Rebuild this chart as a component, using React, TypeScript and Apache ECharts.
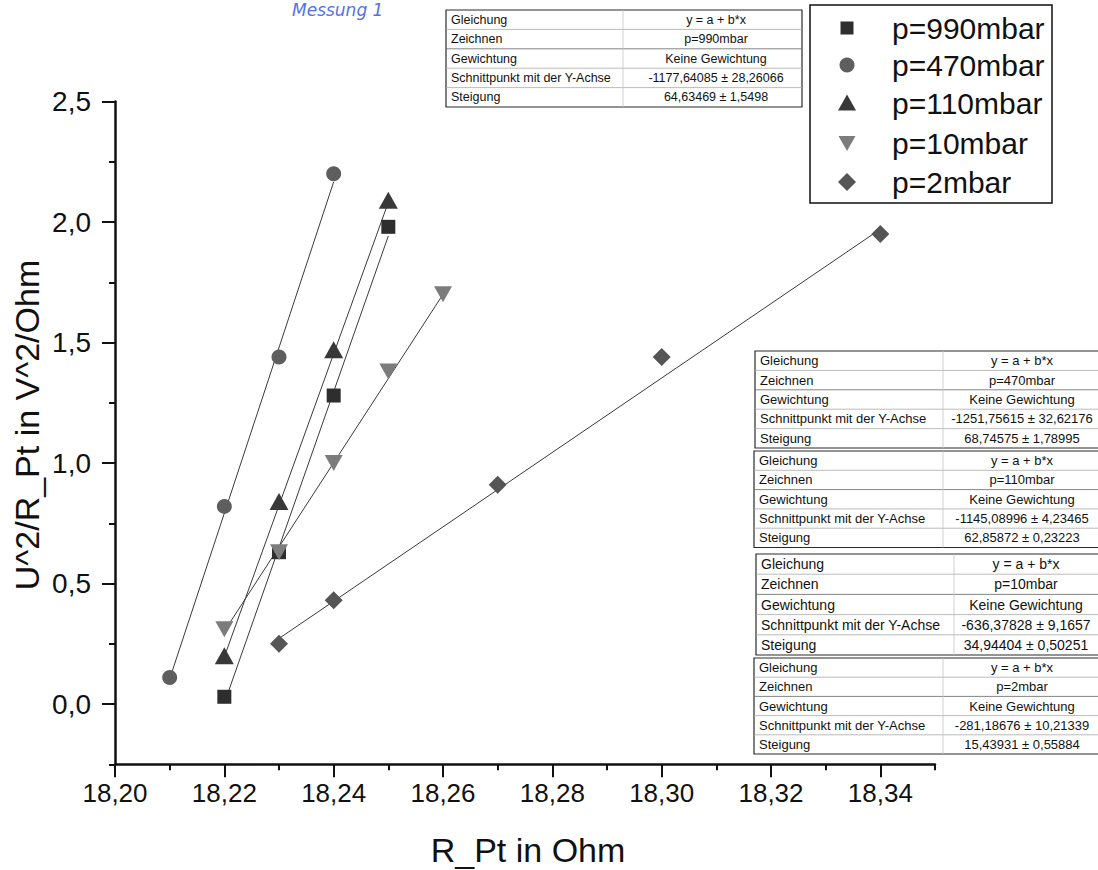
import React, { useEffect, useRef } from "react";
import * as echarts from "echarts";

// ---------- data ----------
const seriesNames = ["p=990mbar", "p=470mbar", "p=110mbar", "p=10mbar", "p=2mbar"];

const x990 = [18.22, 18.23, 18.24, 18.25];
const y990 = [0.03, 0.63, 1.28, 1.98];
const x470 = [18.21, 18.22, 18.23, 18.24];
const y470 = [0.11, 0.82, 1.44, 2.2];
const x110 = [18.22, 18.23, 18.24, 18.25];
const y110 = [0.2, 0.84, 1.47, 2.09];
const x10 = [18.22, 18.23, 18.24, 18.25, 18.26];
const y10 = [0.31, 0.63, 1.0, 1.38, 1.7];
const x2 = [18.23, 18.24, 18.27, 18.3, 18.34];
const y2 = [0.25, 0.43, 0.91, 1.44, 1.95];

const fitIntercepts = [-1177.64085, -1251.75615, -1145.08996, -636.37828, -281.18676];
const fitSlopes = [64.63469, 68.74575, 62.85872, 34.94404, 15.43931];
const interceptTexts = [
  "-1177,64085 ± 28,26066",
  "-1251,75615 ± 32,62176",
  "-1145,08996 ± 4,23465",
  "-636,37828 ± 9,1657",
  "-281,18676 ± 10,21339",
];
const slopeTexts = [
  "64,63469 ± 1,5498",
  "68,74575 ± 1,78995",
  "62,85872 ± 0,23223",
  "34,94404 ± 0,50251",
  "15,43931 ± 0,55884",
];
const tableRowLabels = ["Gleichung", "Zeichnen", "Gewichtung", "Schnittpunkt mit der Y-Achse", "Steigung"];
const equationText = "y = a + b*x";
const weightingText = "Keine Gewichtung";

const xMajorTicks = [18.2, 18.22, 18.24, 18.26, 18.28, 18.3, 18.32, 18.34];
const yMajorTicks = [0, 0.5, 1, 1.5, 2, 2.5];

const xTitle = "R_Pt in Ohm";
const yTitle = "U^2/R_Pt in V^2/Ohm";
const handNote = "Messung 1";

// ---------- styles ----------
const FONT = "Liberation Sans, Arial, sans-serif";
const markerColors = ["#2e2e2e", "#5e5e5e", "#383838", "#7c7c7c", "#555555"];
const markerSymbols = ["rect", "circle", "triangle", "triangle", "diamond"];
const markerRotate = [0, 0, 0, 180, 0];
const markerSizes: any[] = [14, 15, [19, 17], [18, 16], 18];

const xsAll = [x990, x470, x110, x10, x2];
const ysAll = [y990, y470, y110, y10, y2];

function fmtComma(v: number, d: number) {
  return v.toFixed(d).replace(".", ",");
}

function buildTable(
  i: number,
  left: number,
  top: number,
  right: number,
  split: number,
  rowH: number,
  fs: number,
  valCenter: number
) {
  const els: any[] = [];
  const h = rowH * 5;
  els.push({
    type: "rect",
    shape: { x: left, y: top, width: right - left, height: h },
    style: { fill: "#ffffff", stroke: "#2a2a2a", lineWidth: 1.2 },
    z: 50,
  });
  for (let r = 1; r < 5; r++) {
    els.push({
      type: "line",
      shape: { x1: left, y1: top + rowH * r, x2: right, y2: top + rowH * r },
      style: { stroke: r === 2 ? "#666" : "#aaa", lineWidth: 0.8 },
      z: 51,
    });
  }
  els.push({
    type: "line",
    shape: { x1: split, y1: top, x2: split, y2: top + h },
    style: { stroke: "#c4c4c4", lineWidth: 0.8 },
    z: 51,
  });
  const vals = [equationText, seriesNames[i], weightingText, interceptTexts[i], slopeTexts[i]];
  for (let r = 0; r < 5; r++) {
    els.push({
      type: "text",
      x: left + 5,
      y: top + rowH * (r + 0.5),
      style: {
        text: tableRowLabels[r],
        fill: "#111",
        font: `${fs}px ${FONT}`,
        verticalAlign: "middle",
        align: "left",
      },
      z: 52,
    });
    els.push({
      type: "text",
      x: valCenter,
      y: top + rowH * (r + 0.5),
      style: {
        text: vals[r],
        fill: "#111",
        font: `${fs}px ${FONT}`,
        verticalAlign: "middle",
        align: "center",
      },
      z: 52,
    });
  }
  return els;
}

function buildLegend() {
  const els: any[] = [];
  els.push({
    type: "rect",
    shape: { x: 810, y: 5, width: 242, height: 198 },
    style: { fill: "#fff", stroke: "#111", lineWidth: 1.5 },
    z: 50,
  });
  const rows = [28, 65, 103, 143, 182];
  const cx = 847;
  els.push({ type: "rect", shape: { x: cx - 6.5, y: rows[0] - 6.5, width: 13, height: 13 }, style: { fill: markerColors[0] }, z: 52 });
  els.push({ type: "circle", shape: { cx, cy: rows[1], r: 7.5 }, style: { fill: markerColors[1] }, z: 52 });
  els.push({
    type: "polygon",
    shape: { points: [[cx - 9, rows[2] + 7.5], [cx + 9, rows[2] + 7.5], [cx, rows[2] - 8.5]] },
    style: { fill: markerColors[2] },
    z: 52,
  });
  els.push({
    type: "polygon",
    shape: { points: [[cx - 8.5, rows[3] - 7], [cx + 8.5, rows[3] - 7], [cx, rows[3] + 8]] },
    style: { fill: markerColors[3] },
    z: 52,
  });
  els.push({
    type: "polygon",
    shape: { points: [[cx, rows[4] - 9], [cx + 9, rows[4]], [cx, rows[4] + 9], [cx - 9, rows[4]]] },
    style: { fill: markerColors[4] },
    z: 52,
  });
  for (let i = 0; i < 5; i++) {
    els.push({
      type: "text",
      x: 892,
      y: rows[i],
      style: { text: seriesNames[i], fill: "#111", font: `30px ${FONT}`, verticalAlign: "middle", align: "left" },
      z: 52,
    });
  }
  return els;
}

export default function App() {
  const ref = useRef<HTMLDivElement>(null);

  useEffect(() => {
    if (!ref.current) return;
    const chart = echarts.init(ref.current, undefined, { renderer: "svg" });

    const series: any[] = [];
    for (let i = 0; i < 5; i++) {
      const xs = xsAll[i];
      const xa = Math.min(...xs);
      const xb = Math.max(...xs);
      series.push({
        type: "line",
        name: seriesNames[i] + " Fit",
        data: [
          [xa, fitIntercepts[i] + fitSlopes[i] * xa],
          [xb, fitIntercepts[i] + fitSlopes[i] * xb],
        ],
        showSymbol: false,
        symbol: "none",
        lineStyle: { color: "#3a3a3a", width: 1 },
        silent: true,
        z: 2,
      });
    }
    for (let i = 0; i < 5; i++) {
      series.push({
        type: "scatter",
        name: seriesNames[i],
        data: xsAll[i].map((x, k) => [x, ysAll[i][k]]),
        symbol: markerSymbols[i],
        symbolRotate: markerRotate[i],
        symbolSize: markerSizes[i],
        itemStyle: { color: markerColors[i], opacity: 1 },
        z: 3 + i,
      });
    }

    const axisLineStyle = { color: "#111", width: 2.5 };
    const tickStyle = { color: "#111", width: 2 };

    const option: any = {
      animation: false,
      backgroundColor: "#ffffff",
      textStyle: { fontFamily: FONT },
      grid: { left: 115, right: 163, top: 101.5, bottom: 105.75, containLabel: false },
      xAxis: [
        {
          type: "value",
          position: "bottom",
          min: 18.2,
          max: 18.35,
          interval: 0.01,
          axisLine: { show: true, onZero: false, lineStyle: axisLineStyle },
          axisTick: { show: true, length: 6, lineStyle: tickStyle },
          axisLabel: { show: false },
          splitLine: { show: false },
        },
        {
          type: "value",
          position: "bottom",
          min: 18.2,
          max: 18.35,
          interval: 0.02,
          axisLine: { show: false, onZero: false },
          axisTick: { show: true, length: 13, lineStyle: tickStyle, customValues: xMajorTicks },
          axisLabel: {
            show: true,
            customValues: xMajorTicks,
            fontSize: 26,
            color: "#111",
            margin: 16,
            fontFamily: FONT,
            formatter: (v: number) => (v > 18.345 ? "" : fmtComma(v, 2)),
          },
          splitLine: { show: false },
        },
      ],
      yAxis: [
        {
          type: "value",
          position: "left",
          min: -0.25,
          max: 2.5,
          interval: 0.25,
          axisLine: { show: true, onZero: false, lineStyle: axisLineStyle },
          axisTick: { show: true, length: 6, lineStyle: tickStyle },
          axisLabel: { show: false },
          splitLine: { show: false },
        },
        {
          type: "value",
          position: "left",
          min: -0.25,
          max: 2.5,
          interval: 0.25,
          axisLine: { show: false, onZero: false },
          axisTick: { show: true, length: 13, lineStyle: tickStyle, customValues: yMajorTicks },
          axisLabel: {
            show: true,
            customValues: yMajorTicks,
            fontSize: 28,
            color: "#111",
            margin: 24,
            fontFamily: FONT,
            formatter: (v: number) =>
              v >= -1e-9 && Math.abs(v * 2 - Math.round(v * 2)) < 1e-6 ? fmtComma(v, 1) : "",
          },
          splitLine: { show: false },
        },
      ],
      series,
      graphic: [
        {
          type: "text",
          x: 528,
          y: 850,
          style: { text: xTitle, fill: "#111", font: `34px ${FONT}`, align: "center", verticalAlign: "middle" },
        },
        {
          type: "text",
          x: 27,
          y: 425,
          rotation: Math.PI / 2,
          style: { text: yTitle, fill: "#111", font: `34px ${FONT}`, align: "center", verticalAlign: "middle" },
        },
        {
          type: "text",
          x: 292,
          y: 1,
          style: {
            text: handNote,
            fill: "#5470e6",
            font: `italic 17px "DejaVu Sans", sans-serif`,
            align: "left",
            verticalAlign: "top",
          },
        },
        ...buildTable(0, 446, 10, 802, 623, 19.4, 12.5, 716),
        ...buildTable(1, 755, 351, 1100, 943, 19.4, 13, 1022),
        ...buildTable(2, 754, 451, 1100, 943, 19.3, 13, 1022),
        ...buildTable(3, 756, 554, 1100, 954, 20.2, 14, 1026),
        ...buildTable(4, 754, 658, 1100, 943, 19.2, 13, 1022),
        ...buildLegend(),
      ],
    };

    chart.setOption(option);
    return () => {
      chart.dispose();
    };
  }, []);

  return (
    <div
      ref={ref}
      style={{ position: "absolute", left: 0, top: 0, width: 1098, height: 870, background: "#fff" }}
    />
  );
}
